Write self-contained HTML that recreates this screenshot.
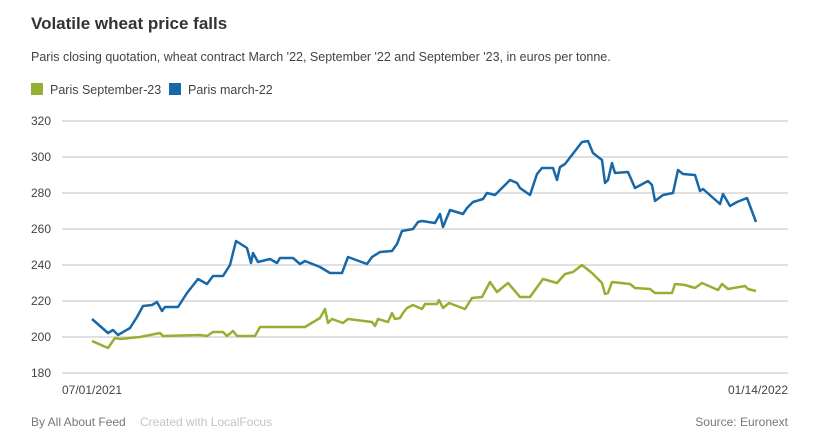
<!DOCTYPE html>
<html><head><meta charset="utf-8"><style>
body{margin:0;background:#fff;width:820px;height:443px;overflow:hidden;font-family:"Liberation Sans",sans-serif;}
svg text{font-family:"Liberation Sans",sans-serif;}
</style></head><body>
<svg width="820" height="443" viewBox="0 0 820 443">
<text x="31" y="29" font-size="17" font-weight="bold" fill="#333">Volatile wheat price falls</text>
<text x="31" y="61" font-size="12.5" fill="#444">Paris closing quotation, wheat contract March '22, September '22 and September '23, in euros per tonne.</text>
<rect x="31" y="83" width="12" height="12" fill="#94b033"/>
<text x="50" y="94" font-size="12.5" fill="#444">Paris September-23</text>
<rect x="169" y="83" width="12" height="12" fill="#1868a8"/>
<text x="188" y="94" font-size="12.5" fill="#444">Paris march-22</text>
<g stroke="#d6d6d6" stroke-width="1.5">
<line x1="62" x2="788" y1="121" y2="121"/><line x1="62" x2="788" y1="157" y2="157"/>
<line x1="62" x2="788" y1="193" y2="193"/><line x1="62" x2="788" y1="229" y2="229"/>
<line x1="62" x2="788" y1="265" y2="265"/><line x1="62" x2="788" y1="301" y2="301"/>
<line x1="62" x2="788" y1="337" y2="337"/><line x1="62" x2="788" y1="373" y2="373"/>
</g>
<g font-size="12" fill="#444" text-anchor="end">
<text x="51" y="125">320</text><text x="51" y="161">300</text><text x="51" y="197">280</text>
<text x="51" y="233">260</text><text x="51" y="269">240</text><text x="51" y="305">220</text>
<text x="51" y="341">200</text><text x="51" y="377">180</text>
</g>
<text x="62" y="394" font-size="12" fill="#444">07/01/2021</text>
<text x="788" y="394" font-size="12" fill="#444" text-anchor="end">01/14/2022</text>
<polyline fill="none" stroke="#94b033" stroke-width="2.5" stroke-linejoin="round" points="92,341 108,348 115,338 120,339 140,337 160,333 163,336 200,335 207,336 213,332 223,332 227,336 233,331 237,336 255,336 260,327 305,327 320,318 325,309 328,323 332,319 343,323 348,319 372,322 375,326 378,319 388,322 392,313 395,319 400,318 403,313 407,308 413,305 422,309 425,304 437,304 439,300 443,308 449,303 465,309 472,298 482,297 490,282 497,292 508,283 520,297 530,297 543,279 557,283 565,274 573,272 582,265 592,273 602,283 605,294 608,293 612,282 630,284 635,288 650,289 655,293 672,293 675,284 685,285 695,288 702,283 718,290 722,284 728,289 745,286 748,289 756,291"/>
<polyline fill="none" stroke="#1868a8" stroke-width="2.5" stroke-linejoin="round" points="92,319 108,333 113,330 118,335 130,328 137,317 143,306 152,305 157,302 162,311 165,307 178,307 187,293 198,279 207,284 213,276 223,276 230,265 236,241 247,248 251,263 253,253 258,262 270,259 277,263 280,258 293,258 300,264 305,261 320,267 330,273 342,273 348,257 367,264 372,257 380,252 392,251 397,244 402,231 413,229 418,222 422,221 435,223 440,214 443,227 450,210 463,214 467,208 473,202 483,199 487,193 495,195 510,180 517,183 520,188 530,195 537,174 542,168 553,168 557,180 560,167 565,164 582,142 588,141 593,153 602,160 605,183 608,180 612,163 615,173 628,172 635,188 648,181 652,185 655,201 663,195 673,193 678,170 683,174 695,175 700,191 703,189 720,204 723,194 730,206 737,202 747,198 756,222"/>
<text x="31" y="426" font-size="12" fill="#777">By All About Feed</text>
<text x="140" y="426" font-size="12" fill="#c4c4c4">Created with LocalFocus</text>
<text x="788" y="426" font-size="12" fill="#777" text-anchor="end">Source:  Euronext</text>
</svg>
</body></html>
